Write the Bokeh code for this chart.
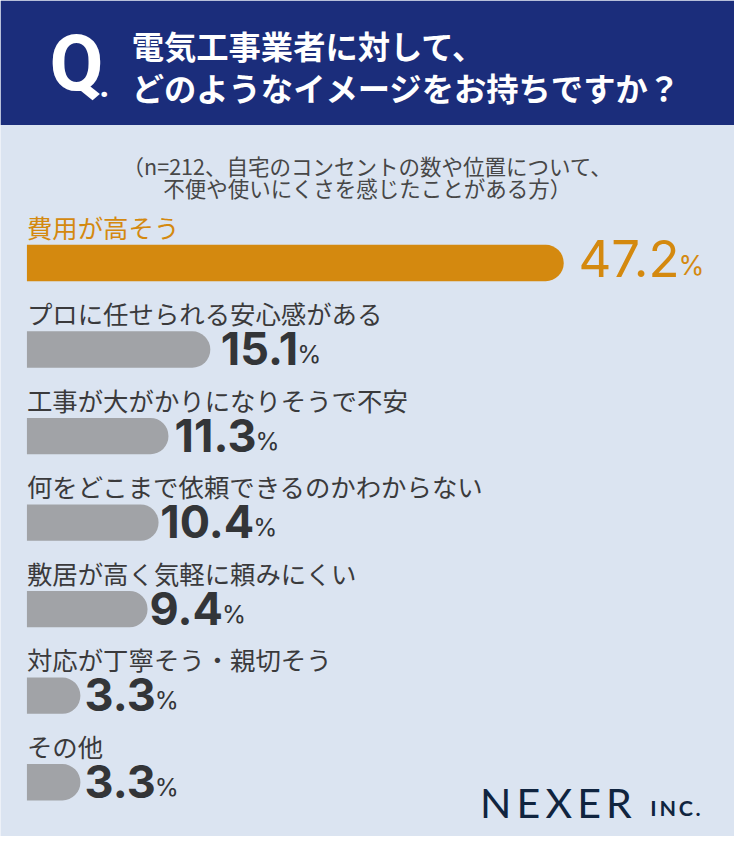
from bokeh.plotting import figure
from bokeh.models import Range1d
from bokeh.core.properties import value
from bokeh.embed import file_html
from bokeh.resources import INLINE

# ---------------- data ----------------
categories = [
    "費用が高そう",
    "プロに任せられる安心感がある",
    "工事が大がかりになりそうで不安",
    "何をどこまで依頼できるのかわからない",
    "敷居が高く気軽に頼みにくい",
    "対応が丁寧そう・親切そう",
    "その他",
]
values = [47.2, 15.1, 11.3, 10.4, 9.4, 3.3, 3.3]
value_labels = ["47.2", "15.1", "11.3", "10.4", "9.4", "3.3", "3.3"]

title_lines = ["電気工事業者に対して、", "どのようなイメージをお持ちですか？"]
subtitle_lines = ["（n=212、自宅のコンセントの数や位置について、",
                  "不便や使いにくさを感じたことがある方）"]

# ---------------- layout (reference pixel space 750 x 852) ----------------
W, H = 734, 836
RW, RH = 750, 852
FS = W / RW                      # font scale
PX_PER_PCT = 11.25               # reference pixels per percent
ZERO_PX = 44.5                   # reference pixel where 0 % sits
K_MID = 0.27                     # "middle" baseline offset (em)


def px(x):
    """reference pixel x -> percent-axis data units"""
    return (x - ZERO_PX) / PX_PER_PCT


def fs(size):
    return f"{size * FS:.1f}px"


BG = "#dbe4f1"
NAVY = "#1b2d7b"
ORANGE = "#d4890f"
GRAY_BAR = "#a1a3a7"
DARK = "#333538"
LABEL = "#3a3a3c"
LOGO = "#10243f"
JP = "Noto Sans CJK JP"
NUM = "Inter"

p = figure(width=W, height=H, output_backend="svg", toolbar_location=None,
           x_range=Range1d(px(0), px(RW)), y_range=Range1d(RH, 0),
           min_border=0, background_fill_color=BG, border_fill_color=BG,
           outline_line_color=None)
p.axis.visible = False
p.grid.visible = False

# header band
p.quad(left=[px(0)], right=[px(RW)], top=[0], bottom=[127],
       fill_color=NAVY, line_color=None)

p.text(x=[px(50)], y=[64], text=["Q"],
       text_font=value("Liberation Sans Narrow, Roboto"),
       text_font_style="bold", text_font_size=fs(80), text_color="white",
       text_baseline="middle")
p.text(x=[px(101)], y=[86], text=["."], text_font=value("Roboto"),
       text_font_style="bold", text_font_size=fs(36), text_color="white",
       text_baseline="middle")
p.text(x=[px(134)] * 2, y=[45, 88], text=title_lines, text_font=value(JP),
       text_font_style="bold", text_font_size=fs(33), text_color="white",
       text_baseline="middle")

# subtitle
p.text(x=[px(375)] * 2, y=[168, 191], text=subtitle_lines, text_font=value(JP),
       text_font_size=fs(22), text_color="#474747", text_align="center",
       text_baseline="middle")

# bars
n = len(values)
ys = [267.5 + 88.2 * i for i in range(n)]
colors = [ORANGE] + [GRAY_BAR] * (n - 1)
p.hbar(y=ys, left=px(27), right=values, height=37, fill_color=colors,
       line_color=None, border_radius=(0, 18, 18, 0))

# category labels
label_colors = [ORANGE] + [LABEL] * (n - 1)
p.text(x=[px(27)] * n, y=[y - 37 for y in ys], text=categories,
       text_font=value(JP), text_font_size=fs(26), text_color=label_colors,
       text_baseline="middle")


def num_width(s, size):
    w = 0.0
    for ch in s:
        if ch == ".":
            w += 0.26
        elif ch == "1":
            w += 0.45
        else:
            w += 0.62
    return w * size


# value labels: digits right-aligned at an anchor, "%" left-aligned after it
gap = 8 / PX_PER_PCT
for i, (v, s) in enumerate(zip(values, value_labels)):
    if i == 0:
        size, style, col, psize = 52, "normal", ORANGE, 27
        cy = ys[i] - 5
    else:
        size, style, col, psize = 46, "bold", DARK, 25
        cy = ys[i] - 1
    anchor = v + gap + num_width(s, size) / PX_PER_PCT
    p.text(x=[anchor], y=[cy], text=[s], text_font=value(NUM),
           text_font_style=style, text_font_size=fs(size), text_color=col,
           text_align="right", text_baseline="middle")
    p.text(x=[anchor - 1 / PX_PER_PCT], y=[cy + K_MID * (size - psize)],
           text=["%"], text_font=value(NUM), text_font_size=fs(psize),
           text_color=col, text_baseline="middle")

# logo
p.text(x=[px(490)], y=[817], text=["N\u2009E\u2009X\u2009E\u2009R"],
       text_font=value("Lato"), text_font_size=fs(42), text_color=LOGO,
       text_baseline="middle")
p.text(x=[px(664)], y=[823], text=["I\u2009N\u2009C\u2009."],
       text_font=value("Lato"), text_font_style="bold",
       text_font_size=fs(22), text_color=LOGO, text_baseline="middle")

open("out.html", "w").write(file_html(p, INLINE))
